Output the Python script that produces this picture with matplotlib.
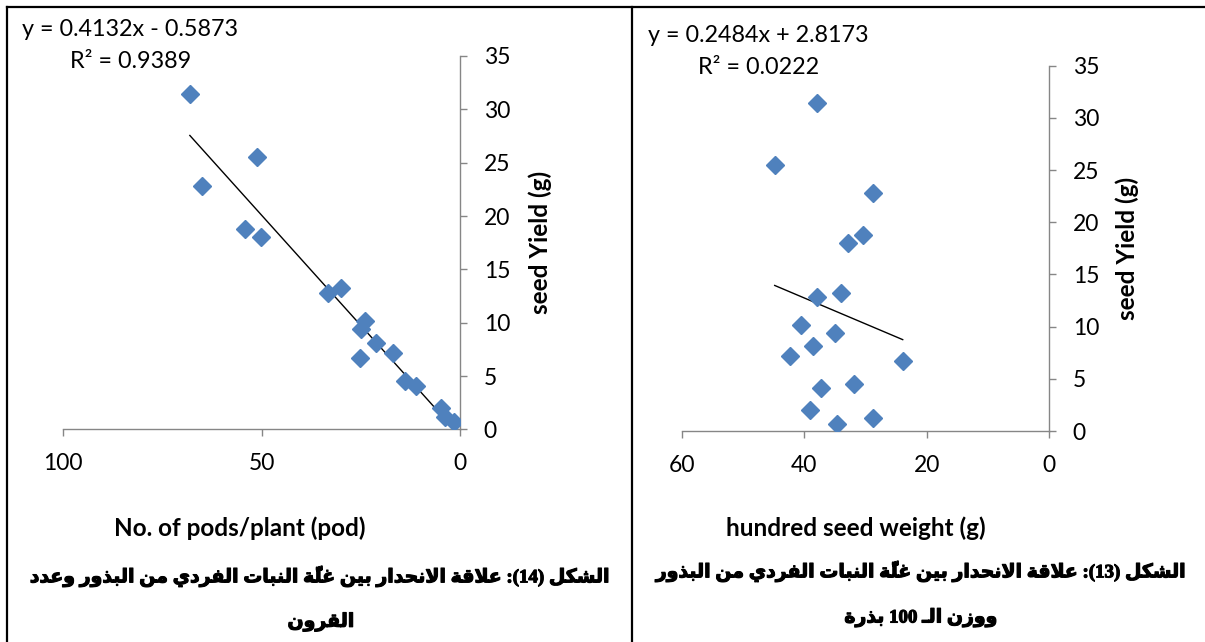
import numpy as np
import matplotlib
matplotlib.use('Agg')
import matplotlib.pyplot as plt
import matplotlib.patheffects as pe
from matplotlib.lines import Line2D

plt.rcParams['font.family'] = ['Lato', 'DejaVu Sans']

# seed yield per plant (g), shared by both panels
seed_yield = [31.4, 25.5, 22.8, 18.8, 18.0, 13.25, 12.8, 10.2, 9.4, 8.1, 7.2, 6.7, 4.5, 4.1, 2.0, 1.2, 0.7]
# number of pods per plant
pods = [68.1, 51.1, 65.0, 54.1, 50.1, 30.0, 33.3, 24.0, 25.0, 21.2, 16.8, 25.1, 13.8, 11.2, 4.8, 3.8, 1.6]
# hundred seed weight (g)
seed_wt = [37.9, 44.8, 28.8, 30.4, 32.8, 33.9, 37.9, 40.5, 35.0, 38.6, 42.3, 23.9, 31.8, 37.3, 39.0, 28.8, 34.7]

# trend line coefficients (slope, intercept, R2)
fit_pods = (0.4132, -0.5873, 0.9389)
fit_wt = (0.2484, 2.8173, 0.0222)

yticks = [0, 5, 10, 15, 20, 25, 30, 35]
xticks_pods = [100, 50, 0]
xticks_wt = [60, 40, 20, 0]

cap_left = ['الشكل (14): علاقة الانحدار بين غلَّة النبات الفردي من البذور وعدد', 'القرون']
cap_right = ['الشكل (13): علاقة الانحدار بين غلَّة النبات الفردي من البذور', 'ووزن الـ 100 بذرة']

# --- minimal arabic shaping (presentation forms) + visual ordering ---
FORMS = {
    'ا': ('\uFE8D', '\uFE8E', None, None),
    'ب': ('\uFE8F', '\uFE90', '\uFE91', '\uFE92'),
    'ة': ('\uFE93', '\uFE94', None, None),
    'ت': ('\uFE95', '\uFE96', '\uFE97', '\uFE98'),
    'ح': ('\uFEA1', '\uFEA2', '\uFEA3', '\uFEA4'),
    'د': ('\uFEA9', '\uFEAA', None, None),
    'ذ': ('\uFEAB', '\uFEAC', None, None),
    'ر': ('\uFEAD', '\uFEAE', None, None),
    'ز': ('\uFEAF', '\uFEB0', None, None),
    'ش': ('\uFEB5', '\uFEB6', '\uFEB7', '\uFEB8'),
    'ع': ('\uFEC9', '\uFECA', '\uFECB', '\uFECC'),
    'غ': ('\uFECD', '\uFECE', '\uFECF', '\uFED0'),
    'ف': ('\uFED1', '\uFED2', '\uFED3', '\uFED4'),
    'ق': ('\uFED5', '\uFED6', '\uFED7', '\uFED8'),
    'ك': ('\uFED9', '\uFEDA', '\uFEDB', '\uFEDC'),
    'ل': ('\uFEDD', '\uFEDE', '\uFEDF', '\uFEE0'),
    'م': ('\uFEE1', '\uFEE2', '\uFEE3', '\uFEE4'),
    'ن': ('\uFEE5', '\uFEE6', '\uFEE7', '\uFEE8'),
    'و': ('\uFEED', '\uFEEE', None, None),
    'ي': ('\uFEF1', '\uFEF2', '\uFEF3', '\uFEF4'),
    'ـ': ('ـ', 'ـ', 'ـ', 'ـ'),
}
DUAL = {k for k, v in FORMS.items() if v[2] is not None}


def is_mark(c):
    return '\u064B' <= c <= '\u0652'


def shape(text):
    n = len(text)

    def nb(i, step):
        j = i + step
        while 0 <= j < n and is_mark(text[j]):
            j += step
        return j if 0 <= j < n else None

    out = []
    i = 0
    while i < n:
        c = text[i]
        if is_mark(c):
            # marks go in front of their base so they land on it once reversed
            out[-1] = out[-1] + c
            i += 1
            continue
        if c not in FORMS:
            out.append(c)
            i += 1
            continue
        p, q = nb(i, -1), nb(i, 1)
        pc = text[p] if p is not None else ''
        qc = text[q] if q is not None else ''
        jp = pc in DUAL
        if c == 'ل' and qc == 'ا':
            out.append('\uFEFC' if jp else '\uFEFB')
            i = q + 1
            continue
        jn = c in DUAL and qc in FORMS
        iso, fin, ini, med = FORMS[c]
        out.append(med if jp and jn else fin if jp else ini if jn else iso)
        i += 1
    # visual order: reverse runs, keep digit runs left-to-right
    runs = []
    for g in out:
        if g.isdigit() and runs and runs[-1].isdigit():
            runs[-1] += g
        elif g.isdigit():
            runs.append(g)
        else:
            runs.append(g[::-1])
    mirror = {'(': ')', ')': '('}
    return ''.join(mirror.get(r, r) for r in reversed(runs))


W, H = 1205, 642
fig = plt.figure(figsize=(W / 100, H / 100), dpi=100)


def fx(x):
    return x / W


def fy(y):
    return 1 - y / H


def panel(box, xvals, fit, xlim, xticks, xlabel, eq_pos, r2_pos, ylab_x, xlab_x):
    x0, y0, x1, y1 = box
    ax = fig.add_axes([fx(x0), fy(y1), (x1 - x0) / W, (y1 - y0) / H])
    ax.plot(xvals, seed_yield, 'D', color='#4F81BD', ms=9, mec='#4F81BD', zorder=3)
    slope, icpt, r2 = fit
    xs = np.array([min(xvals), max(xvals)])
    ax.plot(xs, slope * xs + icpt, color='black', lw=1.0, zorder=2)
    ax.set_xlim(*xlim)
    ax.set_ylim(0, 35)
    ax.set_xticks(xticks)
    ax.set_yticks(yticks)
    for s in ['top', 'left']:
        ax.spines[s].set_visible(False)
    for s in ['bottom', 'right']:
        ax.spines[s].set_color('#868686')
        ax.spines[s].set_linewidth(1.0)
    ax.yaxis.tick_right()
    ax.tick_params(axis='both', direction='out', length=5, width=1.0, color='#868686',
                   labelsize=16.5, labelcolor='black')
    ax.tick_params(axis='x', pad=12)
    ax.tick_params(axis='y', pad=12)
    ax.patch.set_alpha(0)
    sign = '-' if icpt < 0 else '+'
    fig.text(fx(eq_pos[0]), fy(eq_pos[1]), 'y = %.4fx %s %.4f' % (slope, sign, abs(icpt)),
             fontsize=16.8, ha='left', va='center')
    fig.text(fx(r2_pos[0]), fy(r2_pos[1]), 'R² = %.4f' % r2, fontsize=16.8, ha='left', va='center')
    fig.text(fx(ylab_x), fy((y0 + y1) / 2), 'seed Yield (g)', rotation=90, fontsize=17.5,
             fontweight='bold', ha='center', va='center')
    fig.text(fx(xlab_x), fy(528), xlabel, fontsize=17.5, fontweight='bold', ha='center', va='center')
    return ax


panel((63.3, 56, 460, 429.4), pods, fit_pods, (100, 0), xticks_pods, 'No. of pods/plant (pod)',
      (22.5, 30), (70.4, 61), 540, 240)
panel((681.6, 65.7, 1049.1, 431), seed_wt, fit_wt, (60, 0), xticks_wt, 'hundred seed weight (g)',
      (648, 35), (698, 68), 1127, 856)

# heavy caption text: thicken glyph outlines
cap_font = dict(family=['Liberation Serif', 'DejaVu Sans'], fontweight='bold', fontsize=13.6,
                ha='center', va='center',
                path_effects=[pe.withStroke(linewidth=0.8, foreground='black')])
fig.text(fx(321), fy(577), shape(cap_left[0]), **cap_font)
fig.text(fx(321), fy(622), shape(cap_left[1]), **cap_font)
fig.text(fx(922), fy(572), shape(cap_right[0]), **cap_font)
fig.text(fx(921), fy(618), shape(cap_right[1]), **cap_font)

# table borders
for xs, ys in [((7, W), (6.5, 6.5)), ((7, 7), (6.5, H)), ((632, 632), (6.5, H))]:
    fig.add_artist(Line2D([fx(v) for v in xs], [fy(v) for v in ys], color='black', lw=1.6,
                          transform=fig.transFigure))

fig.savefig('out.png', dpi=100)
